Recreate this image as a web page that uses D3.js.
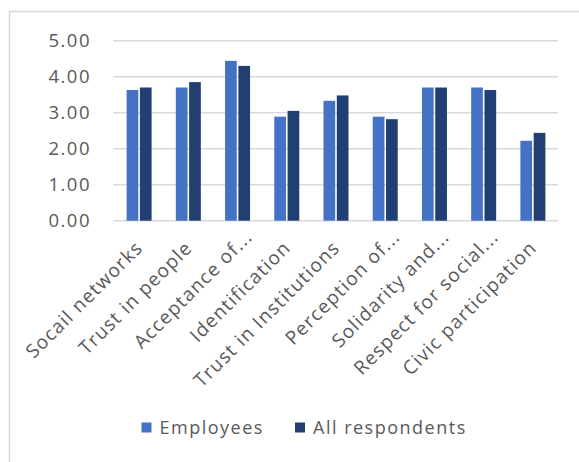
<!DOCTYPE html>
<html>
<head>
<meta charset="utf-8">
<script src="https://cdn.jsdelivr.net/npm/d3@7"></script>
<style>
  html, body { margin: 0; padding: 0; background: #ffffff; }
  svg { display: block; }
  text { font-family: "Open Sans", "Noto Sans", sans-serif; fill: #595959; }
</style>
</head>
<body>
<svg id="chart" width="579" height="462"></svg>
<script>
const categories = [
  "Socail networks", "Trust in people", "Acceptance of...", "Identification",
  "Trust in Institutions", "Perception of...", "Solidarity and...",
  "Respect for  social...", "Civic participation"
];
const seriesNames = ["Employees", "All respondents"];
const employees = [3.63, 3.70, 4.44, 2.89, 3.33, 2.89, 3.70, 3.70, 2.22];
const allRespondents = [3.70, 3.85, 4.30, 3.05, 3.48, 2.82, 3.70, 3.63, 2.44];
const yTicks = [0, 1, 2, 3, 4, 5];
const colors = ["#4472C4", "#223F73"];

const svg = d3.select("#chart");

// frame
svg.append("path")
  .attr("d", "M9.5,462 L9.5,11.5 L579,11.5")
  .attr("fill", "none").attr("stroke", "#d9d9d9").attr("stroke-width", 1.5);

const x = d3.scaleBand().domain(categories).range([114.5, 557.5]).padding(0);
const y = d3.scaleLinear().domain([0, 5]).range([220.7, 40.7]);
const groupW = 25;
const xs = d3.scaleBand().domain(seriesNames).range([-groupW / 2, groupW / 2]).paddingInner(0.12);

// gridlines
svg.append("g").selectAll("line").data(yTicks).join("line")
  .attr("x1", 113).attr("x2", 558)
  .attr("y1", d => y(d)).attr("y2", d => y(d))
  .attr("stroke", "#d9d9d9").attr("stroke-width", 1.5);

// y axis labels
const yAxis = d3.axisLeft(y).tickValues(yTicks).tickFormat(d3.format(".2f")).tickSize(0).tickPadding(0);
const gy = svg.append("g").attr("transform", "translate(91,0)").call(yAxis);
gy.select(".domain").remove();
gy.selectAll("text")
  .attr("font-size", 18.5).attr("letter-spacing", "1.5px")
  .attr("fill", "#595959").attr("font-family", "Open Sans");

// bars
const data = categories.map((c, i) => ({ c, vals: [employees[i], allRespondents[i]] }));
const groups = svg.append("g").selectAll("g").data(data).join("g")
  .attr("transform", d => `translate(${x(d.c) + x.bandwidth() / 2},0)`);
groups.selectAll("rect").data(d => d.vals.map((v, j) => ({ s: seriesNames[j], v, j })))
  .join("rect")
  .attr("x", d => xs(d.s))
  .attr("width", xs.bandwidth())
  .attr("y", d => y(d.v))
  .attr("height", d => y(0) - y(d.v))
  .attr("fill", d => colors[d.j]);

// x labels (rotated)
svg.append("g").selectAll("text").data(categories).join("text")
  .attr("transform", d => {
    const cx = x(d) + x.bandwidth() / 2;
    const shift = d.endsWith("...") ? 11 : 0;
    return `translate(${cx + 5 + shift},${249 - shift}) rotate(-45)`;
  })
  .attr("text-anchor", "end")
  .attr("font-size", 19)
  .attr("letter-spacing", "1.2px")
  .text(d => d);

// legend
const legend = svg.append("g");
const legendItems = [
  { name: seriesNames[0], color: colors[0], x: 141.5 },
  { name: seriesNames[1], color: colors[1], x: 295 }
];
const li = legend.selectAll("g").data(legendItems).join("g")
  .attr("transform", d => `translate(${d.x},422.5)`);
li.append("rect").attr("width", 10).attr("height", 10).attr("fill", d => d.color);
li.append("text").attr("x", 18).attr("y", 5).attr("dy", "0.35em")
  .attr("font-size", 18).attr("letter-spacing", "1.5px")
  .text(d => d.name);
</script>
</body>
</html>
